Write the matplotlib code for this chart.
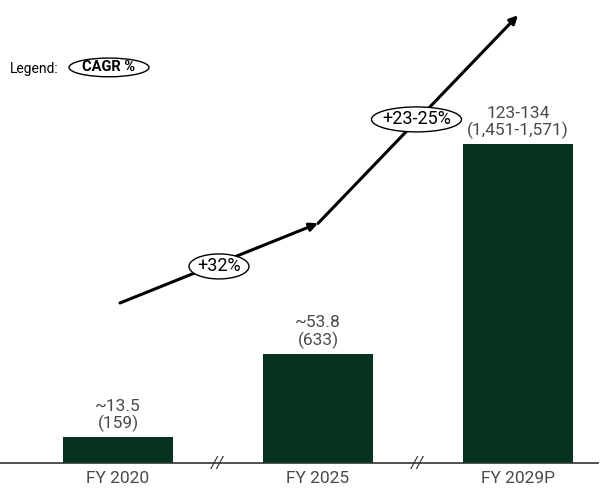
import matplotlib.pyplot as plt
from matplotlib.patches import Ellipse

plt.rcParams['font.family'] = ['Roboto', 'DejaVu Sans']

categories = ['FY 2020', 'FY 2025', 'FY 2029P']
bar_heights = [12.8, 53.8, 157.0]
top_labels = ['~13.5', '~53.8', '123-134']
sub_labels = ['(159)', '(633)', '(1,451-1,571)']
cagr_labels = ['+32%', '+23-25%']
arrow_x = [0.01, 1.0, 2.0]
arrow_y = [78.8, 118.0, 220.5]

bar_color = '#06331f'
text_color = '#4a4a4a'

fig = plt.figure(figsize=(6.08, 4.88), dpi=100)
ax = fig.add_axes([0, 0, 1, 1])
ax.set_xlim(-0.59, 2.45)
ax.set_ylim(-12.3, 228)
ax.axis('off')

x = range(len(categories))
ax.bar(x, bar_heights, width=0.55, color=bar_color, zorder=2)

# baseline
ax.plot([-0.59, 2.40], [0, 0], color='#333333', lw=1.2, zorder=3)
for bx in [0.5, 1.5]:
    ax.text(bx, 0, '//', ha='center', va='center', fontsize=12,
            color='#333333', style='italic', zorder=4)

for i, c in enumerate(categories):
    ax.text(i, -7.5, c, ha='center', va='center', fontsize=12.5,
            color=text_color)
    ax.text(i, bar_heights[i] + 2.5, sub_labels[i], ha='center', va='bottom',
            fontsize=12.5, color=text_color)
    ax.text(i, bar_heights[i] + 11.5, top_labels[i], ha='center', va='bottom',
            fontsize=12.5, color=text_color)

# growth arrows
for k in range(2):
    ax.annotate('', xy=(arrow_x[k + 1], arrow_y[k + 1]),
                xytext=(arrow_x[k], arrow_y[k]),
                arrowprops=dict(arrowstyle='-|>', color='black', lw=2.2,
                                mutation_scale=12, shrinkA=0, shrinkB=0),
                zorder=5)

# CAGR bubbles
bubble_pos = [(0.505, 96.8), (1.4925, 169.2)]
bubble_w = [0.30, 0.45]
for k, lab in enumerate(cagr_labels):
    bx, by = bubble_pos[k]
    ax.add_patch(Ellipse((bx, by), bubble_w[k], 12.3, facecolor='white',
                         edgecolor='black', lw=1.0, zorder=6))
    ax.text(bx, by, lab, ha='center', va='center', fontsize=13,
            color='black', zorder=7)

# legend
fig.text(10 / 608, 1 - 69 / 488, 'Legend:', ha='left', va='center',
         fontsize=10, color='black')
ax.add_patch(Ellipse((-0.045, 194.8), 0.40, 9.2, facecolor='white',
                     edgecolor='black', lw=1.0, zorder=6))
ax.text(-0.045, 194.8, 'CAGR %', ha='center', va='center', fontsize=10.5,
        fontweight='bold', color='black', zorder=7)

fig.savefig('out.png', dpi=100)
